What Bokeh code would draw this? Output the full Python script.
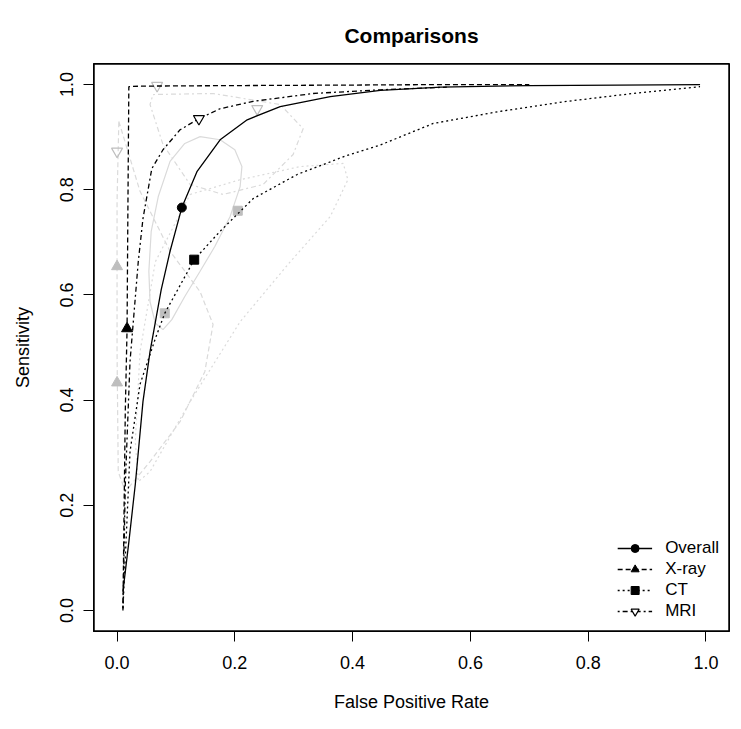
from bokeh.plotting import figure
from bokeh.models import Range1d, FixedTicker, PrintfTickFormatter, Legend, LegendItem, BoxAnnotation
from bokeh.embed import file_html
from bokeh.resources import INLINE

# ---- data ----
ticks = [0.0, 0.2, 0.4, 0.6, 0.8, 1.0]

overall_fpr = [0.010, 0.020, 0.031, 0.044, 0.056, 0.075, 0.090, 0.110, 0.136, 0.175, 0.221, 0.277, 0.362, 0.447, 0.55, 0.70, 0.85, 0.99]
overall_sens = [0.036, 0.13, 0.240, 0.397, 0.492, 0.61, 0.683, 0.766, 0.835, 0.895, 0.933, 0.958, 0.977, 0.989, 0.995, 0.998, 0.999, 1.0]

xray_fpr = [0.010, 0.012, 0.014, 0.017, 0.018, 0.019, 0.020, 0.040, 0.20, 0.40, 0.56, 0.70]
xray_sens = [0.0, 0.20, 0.38, 0.536, 0.70, 0.85, 0.996, 0.997, 0.998, 0.999, 1.0, 1.0]

ct_fpr = [0.010, 0.017, 0.022, 0.039, 0.065, 0.081, 0.131, 0.175, 0.231, 0.306, 0.39, 0.447, 0.537, 0.650, 0.764, 0.876, 0.99]
ct_sens = [0.004, 0.175, 0.302, 0.43, 0.517, 0.565, 0.667, 0.721, 0.783, 0.829, 0.865, 0.885, 0.926, 0.949, 0.968, 0.983, 0.996]

mri_fpr = [0.010, 0.014, 0.022, 0.036, 0.044, 0.059, 0.078, 0.107, 0.139, 0.175, 0.231, 0.333, 0.447, 0.56]
mri_sens = [0.004, 0.240, 0.473, 0.663, 0.745, 0.840, 0.876, 0.914, 0.935, 0.954, 0.968, 0.983, 0.990, 0.995]

summary_fpr = [0.110, 0.017, 0.131, 0.139]
summary_sens = [0.766, 0.536, 0.667, 0.935]

xray_study_fpr = [0.0, 0.0]
xray_study_sens = [0.654, 0.433]
ct_study_fpr = [0.205, 0.081]
ct_study_sens = [0.760, 0.565]
mri_study_fpr = [0.068, 0.0, 0.238]
mri_study_sens = [0.998, 0.873, 0.954]

# confidence regions
overall_reg_fpr = [0.141, 0.175, 0.200, 0.212, 0.209, 0.192, 0.166, 0.141, 0.115, 0.093, 0.078, 0.065, 0.056, 0.054, 0.058, 0.070, 0.090, 0.115, 0.141]
overall_reg_sens = [0.901, 0.895, 0.876, 0.844, 0.806, 0.749, 0.692, 0.645, 0.597, 0.553, 0.534, 0.546, 0.587, 0.645, 0.721, 0.787, 0.854, 0.888, 0.901]

xray_reg_fpr = [0.003, 0.039, 0.090, 0.141, 0.163, 0.149, 0.107, 0.056, 0.014, 0.002, 0.0, 0.0, 0.003]
xray_reg_sens = [0.93, 0.797, 0.683, 0.606, 0.544, 0.454, 0.359, 0.283, 0.226, 0.264, 0.49, 0.778, 0.93]

ct_reg_fpr = [0.124, 0.209, 0.311, 0.384, 0.392, 0.362, 0.294, 0.209, 0.124, 0.056, 0.036, 0.031, 0.039, 0.065, 0.124]
ct_reg_sens = [0.791, 0.819, 0.844, 0.850, 0.819, 0.749, 0.663, 0.549, 0.397, 0.264, 0.245, 0.321, 0.492, 0.663, 0.791]

mri_reg_fpr = [0.061, 0.163, 0.277, 0.316, 0.299, 0.248, 0.180, 0.124, 0.078, 0.056, 0.061]
mri_reg_sens = [0.981, 0.983, 0.962, 0.916, 0.867, 0.810, 0.791, 0.810, 0.886, 0.962, 0.981]

FONT = "Liberation Sans"
GRAY_REG = "#dadada"
GRAY_PT = "#bebebe"
DASH = "5 3"
DOT = "2 3"
DOTDASH = "2 3 5 3"

p = figure(width=736, height=721, x_range=Range1d(-0.04, 1.04), y_range=Range1d(-0.04, 1.04),
           output_backend="svg", toolbar_location=None,
           min_border_left=93, min_border_right=7, min_border_top=63, min_border_bottom=90,
           title="Comparisons")

p.title.align = "center"
p.title.text_font = FONT
p.title.text_font_size = "21px"
p.title.text_font_style = "bold"
p.title.text_color = "black"
p.title.standoff = 33

p.grid.visible = False
p.outline_line_color = "black"
p.outline_line_width = 1
p.background_fill_color = "white"
p.border_fill_color = "white"

for ax in (p.xaxis[0], p.yaxis[0]):
    ax.ticker = FixedTicker(ticks=ticks)
    ax.formatter = PrintfTickFormatter(format="%.1f")
    ax.major_tick_out = 10
    ax.major_tick_in = 0
    ax.minor_tick_line_color = None
    ax.major_tick_line_color = "black"
    ax.axis_line_color = "black"
    ax.major_label_text_font = FONT
    ax.major_label_text_font_size = "18px"
    ax.major_label_text_color = "black"
    ax.axis_label_text_font = FONT
    ax.axis_label_text_font_size = "18px"
    ax.axis_label_text_font_style = "normal"
    ax.axis_label_text_color = "black"

p.xaxis.axis_label = "False Positive Rate"
p.yaxis.axis_label = "Sensitivity"
p.xaxis.major_label_standoff = 14
p.xaxis.axis_label_standoff = 20
p.yaxis.major_label_orientation = "vertical"
p.yaxis.major_label_standoff = 10
p.yaxis.axis_label_standoff = 25

# plot box (covers the whole frame; half of the line is clipped by the frame)
p.add_layout(BoxAnnotation(fill_alpha=0, line_color="black", line_width=2.5, line_alpha=1))

# regions
p.line(overall_reg_fpr, overall_reg_sens, line_color=GRAY_REG, line_width=1.2)
p.line(xray_reg_fpr, xray_reg_sens, line_color=GRAY_REG, line_width=1.2, line_dash=DASH)
p.line(ct_reg_fpr, ct_reg_sens, line_color=GRAY_REG, line_width=1.2, line_dash=DOT)
p.line(mri_reg_fpr, mri_reg_sens, line_color=GRAY_REG, line_width=1.2, line_dash=DOTDASH)

# study points
p.scatter(xray_study_fpr, xray_study_sens, marker="triangle", size=11, fill_color=GRAY_PT, line_color=GRAY_PT)
p.scatter(ct_study_fpr, ct_study_sens, marker="square", size=9, fill_color=GRAY_PT, line_color=GRAY_PT)
p.scatter(mri_study_fpr, mri_study_sens, marker="inverted_triangle", size=11, fill_color=None, line_color=GRAY_PT, line_width=1.2)

# curves
l1 = p.line(overall_fpr, overall_sens, line_color="black", line_width=1.3)
l2 = p.line(xray_fpr, xray_sens, line_color="black", line_width=1.3, line_dash=DASH)
l3 = p.line(ct_fpr, ct_sens, line_color="black", line_width=1.3, line_dash=DOT)
l4 = p.line(mri_fpr, mri_sens, line_color="black", line_width=1.3, line_dash=DOTDASH)

s1 = p.scatter([summary_fpr[0]], [summary_sens[0]], marker="circle", size=9, fill_color="black", line_color="black")
s2 = p.scatter([summary_fpr[1]], [summary_sens[1]], marker="triangle", size=11, fill_color="black", line_color="black")
s3 = p.scatter([summary_fpr[2]], [summary_sens[2]], marker="square", size=9, fill_color="black", line_color="black")
s4 = p.scatter([summary_fpr[3]], [summary_sens[3]], marker="inverted_triangle", size=11, fill_color="white", line_color="black", line_width=1.2)

legend = Legend(items=[
    LegendItem(label="Overall", renderers=[l1, s1]),
    LegendItem(label="X-ray", renderers=[l2, s2]),
    LegendItem(label="CT", renderers=[l3, s3]),
    LegendItem(label="MRI", renderers=[l4, s4]),
], location="bottom_right")
legend.border_line_color = None
legend.background_fill_alpha = 0
legend.margin = 10
legend.padding = 12
legend.glyph_width = 35
legend.glyph_height = 20
legend.label_height = 20
legend.spacing = 1
legend.label_standoff = 13
legend.label_text_font = FONT
legend.label_text_font_size = "17px"
legend.label_text_color = "black"
p.add_layout(legend, "center")

open("out.html", "w").write(file_html(p, INLINE))
